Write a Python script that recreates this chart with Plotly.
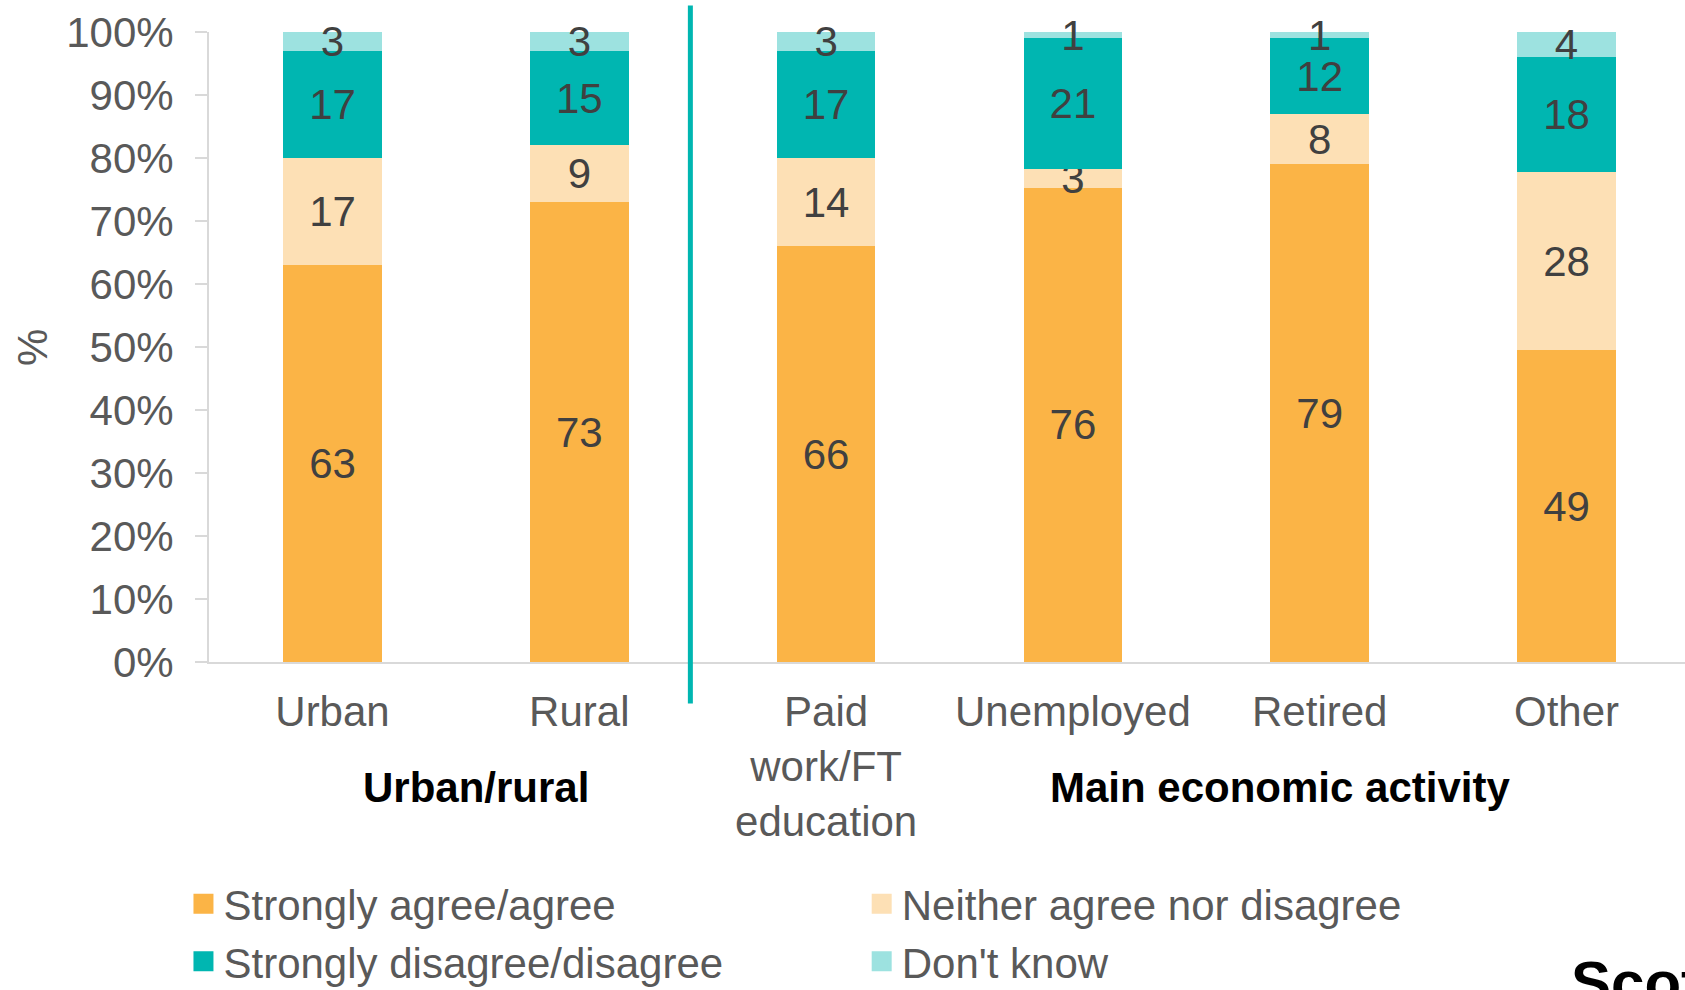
import plotly.graph_objects as go

# Survey responses by urban/rural area and main economic activity (%)
categories = ["Urban", "Rural", "Paid<br>work/FT<br>education", "Unemployed", "Retired", "Other"]
agree = [63, 73, 66, 76, 79, 49]
neither = [17, 9, 14, 3, 8, 28]
disagree = [17, 15, 17, 21, 12, 18]
dont_know = [3, 3, 3, 1, 1, 4]

series_names = ["Strongly agree/agree", "Neither agree nor disagree",
                "Strongly disagree/disagree", "Don't know"]
series_values = [agree, neither, disagree, dont_know]
series_colors = ["#FBB446", "#FDE0B5", "#00B6B1", "#9DE2E0"]
series_legend = ["legend", "legend2", "legend", "legend2"]

y_ticks = list(range(0, 101, 10))
group_labels = [("Urban/rural", 0.58), ("Main economic activity", 3.84)]
divider_x = 1.45

FONT = "Liberation Sans, Arial, sans-serif"
TICK_GREY = "#595959"
LABEL_GREY = "#404040"
AXIS_GREY = "#D9D9D9"

fig = go.Figure()

for name, vals, color in zip(series_names, series_values, series_colors):
    fig.add_trace(go.Bar(
        x=categories,
        y=vals,
        name=name,
        marker=dict(color=color, line=dict(width=0)),
        text=[str(v) for v in vals],
        texttemplate="%{text}",
        textposition="inside",
        insidetextanchor="middle",
        textangle=0,
        constraintext="none",
        cliponaxis=False,
        insidetextfont=dict(family=FONT, size=42, color=LABEL_GREY),
        showlegend=False,
        hoverinfo="x+y+name",
    ))

# Legend entries with larger square swatches
for name, color, leg in zip(series_names, series_colors, series_legend):
    fig.add_trace(go.Scatter(
        x=[None], y=[None], mode="markers", name=name,
        marker=dict(symbol="square", size=16, color=color,
                    line=dict(color=color, width=4)),
        showlegend=True, legend=leg, hoverinfo="skip",
    ))

fig.update_layout(
    width=1685,
    height=990,
    margin=dict(l=209, r=0, t=32, b=328, autoexpand=False),
    paper_bgcolor="white",
    plot_bgcolor="white",
    barmode="stack",
    barnorm="percent",
    bargap=0.6,
    font=dict(family=FONT, size=42, color=TICK_GREY),
    xaxis=dict(
        type="category",
        range=[-0.5004, 5.48],
        showgrid=False,
        showline=True,
        linecolor=AXIS_GREY,
        linewidth=2,
        ticks="",
        ticklabelstandoff=12,
        tickfont=dict(family=FONT, size=42, color=TICK_GREY),
        fixedrange=True,
    ),
    yaxis=dict(
        range=[0, 100.001],
        tickvals=y_ticks,
        ticktext=[f"{v}%" for v in y_ticks],
        showgrid=False,
        zeroline=False,
        showline=True,
        linecolor=AXIS_GREY,
        linewidth=2,
        ticks="outside",
        ticklen=12,
        tickwidth=2,
        tickcolor=AXIS_GREY,
        ticklabelstandoff=13,
        tickfont=dict(family=FONT, size=42, color=TICK_GREY),
    ),
    legend=dict(
        x=-0.0173, y=-0.330, xanchor="left", yanchor="top",
        orientation="v", traceorder="normal", bgcolor="rgba(0,0,0,0)",
        font=dict(family=FONT, size=42, color=TICK_GREY),
        itemsizing="trace",
    ),
    legend2=dict(
        x=0.4422, y=-0.330, xanchor="left", yanchor="top",
        orientation="v", traceorder="normal", bgcolor="rgba(0,0,0,0)",
        font=dict(family=FONT, size=42, color=TICK_GREY),
        itemsizing="trace",
    ),
)

# Divider between the two groupings
fig.add_shape(
    type="line", xref="x", yref="paper",
    x0=divider_x, x1=divider_x, y0=-0.066, y1=1.042,
    line=dict(color="#00B6B1", width=5),
    layer="above",
)

# Grouping titles beneath the category labels
for text, xpos in group_labels:
    fig.add_annotation(
        x=xpos, xref="x", y=-0.199, yref="paper",
        text=f"<b>{text}</b>", showarrow=False,
        xanchor="center", yanchor="middle",
        font=dict(family=FONT, size=42, color="#000000"),
    )

# Y-axis title
fig.add_annotation(
    x=-0.12, xref="paper", y=0.5, yref="paper",
    text="%", textangle=-90, showarrow=False,
    xanchor="center", yanchor="middle",
    font=dict(family=FONT, size=42, color=TICK_GREY),
)

# Publisher mark in the lower right corner
fig.add_annotation(
    x=0.9214, xref="paper", y=-0.453, yref="paper",
    text="<b>Scot</b>", showarrow=False,
    xanchor="left", yanchor="top",
    font=dict(family="Liberation Sans Narrow, Liberation Sans, Arial", size=60, color="#000000"),
)

fig.write_html("out.html")
